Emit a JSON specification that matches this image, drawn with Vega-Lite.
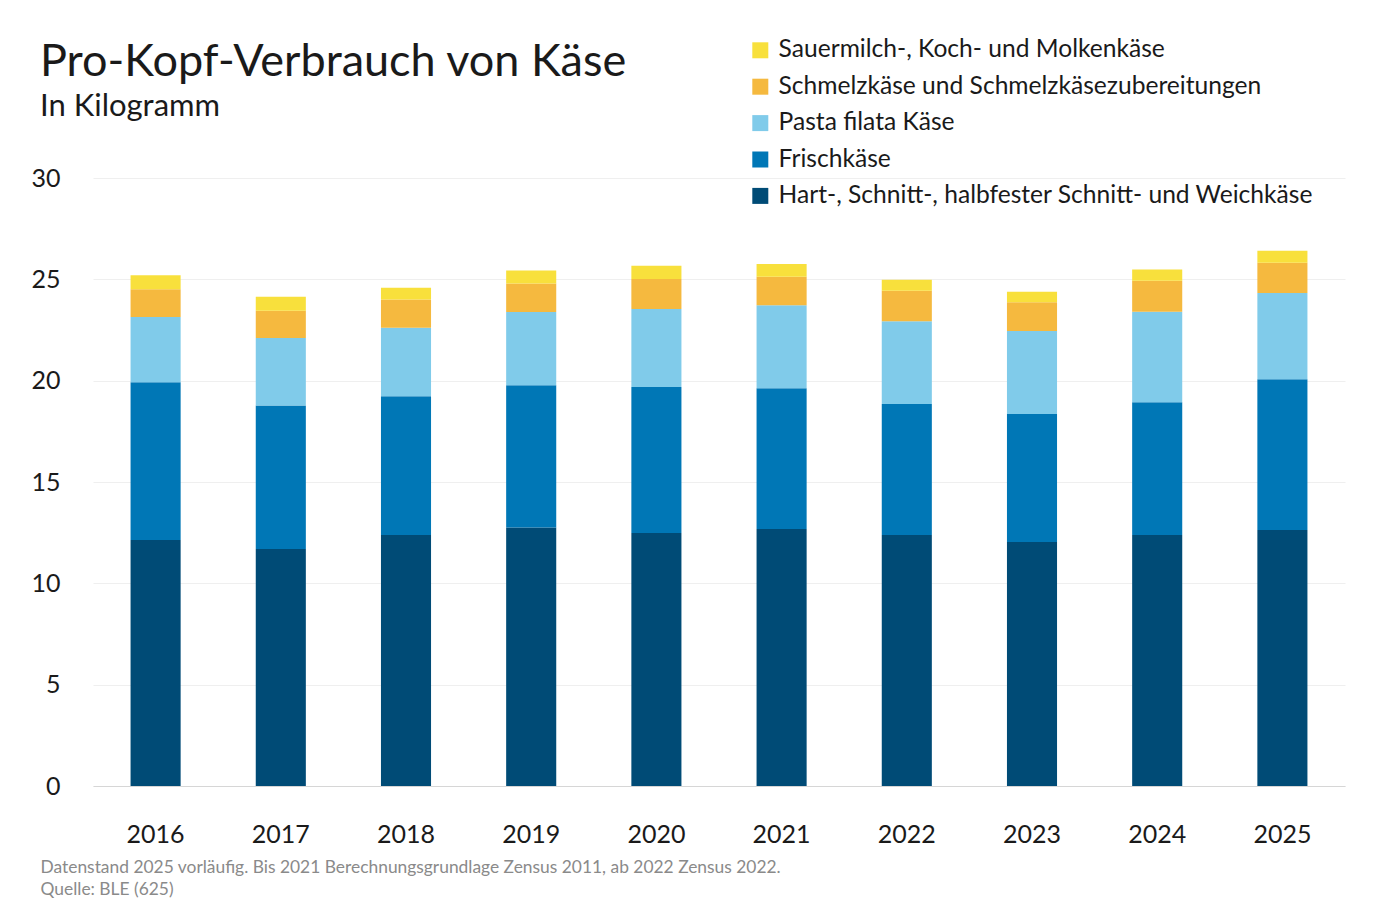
{
  "$schema": "https://vega.github.io/schema/vega-lite/v6.json",
  "width": 1252,
  "height": 608,
  "autosize": {"type": "none"},
  "padding": {"left": 93, "top": 178, "right": 28, "bottom": 130},
  "background": "white",
  "title": {
    "text": "Pro-Kopf-Verbrauch von Käse",
    "subtitle": "In Kilogramm",
    "anchor": "start",
    "frame": "group",
    "dx": -53,
    "offset": 0,
    "dy": 84,
    "font": "Lato",
    "fontSize": 45,
    "fontWeight": "normal",
    "color": "#1a1a1a",
    "subtitleFont": "Lato",
    "subtitleFontSize": 31,
    "subtitleColor": "#1a1a1a",
    "subtitlePadding": 7
  },
  "data": {
    "values": [
      {"jahr": "2016", "stufe": 1, "sorte": "Hart-, Schnitt-, halbfester Schnitt- und Weichkäse", "kg": 12.14},
      {"jahr": "2016", "stufe": 2, "sorte": "Frischkäse", "kg": 7.78},
      {"jahr": "2016", "stufe": 3, "sorte": "Pasta filata Käse", "kg": 3.22},
      {"jahr": "2016", "stufe": 4, "sorte": "Schmelzkäse und Schmelzkäsezubereitungen", "kg": 1.37},
      {"jahr": "2016", "stufe": 5, "sorte": "Sauermilch-, Koch- und Molkenkäse", "kg": 0.69},
      {"jahr": "2017", "stufe": 1, "sorte": "Hart-, Schnitt-, halbfester Schnitt- und Weichkäse", "kg": 11.69},
      {"jahr": "2017", "stufe": 2, "sorte": "Frischkäse", "kg": 7.09},
      {"jahr": "2017", "stufe": 3, "sorte": "Pasta filata Käse", "kg": 3.32},
      {"jahr": "2017", "stufe": 4, "sorte": "Schmelzkäse und Schmelzkäsezubereitungen", "kg": 1.35},
      {"jahr": "2017", "stufe": 5, "sorte": "Sauermilch-, Koch- und Molkenkäse", "kg": 0.69},
      {"jahr": "2018", "stufe": 1, "sorte": "Hart-, Schnitt-, halbfester Schnitt- und Weichkäse", "kg": 12.38},
      {"jahr": "2018", "stufe": 2, "sorte": "Frischkäse", "kg": 6.85},
      {"jahr": "2018", "stufe": 3, "sorte": "Pasta filata Käse", "kg": 3.38},
      {"jahr": "2018", "stufe": 4, "sorte": "Schmelzkäse und Schmelzkäsezubereitungen", "kg": 1.40},
      {"jahr": "2018", "stufe": 5, "sorte": "Sauermilch-, Koch- und Molkenkäse", "kg": 0.58},
      {"jahr": "2019", "stufe": 1, "sorte": "Hart-, Schnitt-, halbfester Schnitt- und Weichkäse", "kg": 12.75},
      {"jahr": "2019", "stufe": 2, "sorte": "Frischkäse", "kg": 7.02},
      {"jahr": "2019", "stufe": 3, "sorte": "Pasta filata Käse", "kg": 3.62},
      {"jahr": "2019", "stufe": 4, "sorte": "Schmelzkäse und Schmelzkäsezubereitungen", "kg": 1.41},
      {"jahr": "2019", "stufe": 5, "sorte": "Sauermilch-, Koch- und Molkenkäse", "kg": 0.63},
      {"jahr": "2020", "stufe": 1, "sorte": "Hart-, Schnitt-, halbfester Schnitt- und Weichkäse", "kg": 12.48},
      {"jahr": "2020", "stufe": 2, "sorte": "Frischkäse", "kg": 7.21},
      {"jahr": "2020", "stufe": 3, "sorte": "Pasta filata Käse", "kg": 3.85},
      {"jahr": "2020", "stufe": 4, "sorte": "Schmelzkäse und Schmelzkäsezubereitungen", "kg": 1.48},
      {"jahr": "2020", "stufe": 5, "sorte": "Sauermilch-, Koch- und Molkenkäse", "kg": 0.65},
      {"jahr": "2021", "stufe": 1, "sorte": "Hart-, Schnitt-, halbfester Schnitt- und Weichkäse", "kg": 12.68},
      {"jahr": "2021", "stufe": 2, "sorte": "Frischkäse", "kg": 6.94},
      {"jahr": "2021", "stufe": 3, "sorte": "Pasta filata Käse", "kg": 4.10},
      {"jahr": "2021", "stufe": 4, "sorte": "Schmelzkäse und Schmelzkäsezubereitungen", "kg": 1.41},
      {"jahr": "2021", "stufe": 5, "sorte": "Sauermilch-, Koch- und Molkenkäse", "kg": 0.63},
      {"jahr": "2022", "stufe": 1, "sorte": "Hart-, Schnitt-, halbfester Schnitt- und Weichkäse", "kg": 12.38},
      {"jahr": "2022", "stufe": 2, "sorte": "Frischkäse", "kg": 6.47},
      {"jahr": "2022", "stufe": 3, "sorte": "Pasta filata Käse", "kg": 4.08},
      {"jahr": "2022", "stufe": 4, "sorte": "Schmelzkäse und Schmelzkäsezubereitungen", "kg": 1.51},
      {"jahr": "2022", "stufe": 5, "sorte": "Sauermilch-, Koch- und Molkenkäse", "kg": 0.54},
      {"jahr": "2023", "stufe": 1, "sorte": "Hart-, Schnitt-, halbfester Schnitt- und Weichkäse", "kg": 12.04},
      {"jahr": "2023", "stufe": 2, "sorte": "Frischkäse", "kg": 6.31},
      {"jahr": "2023", "stufe": 3, "sorte": "Pasta filata Käse", "kg": 4.10},
      {"jahr": "2023", "stufe": 4, "sorte": "Schmelzkäse und Schmelzkäsezubereitungen", "kg": 1.42},
      {"jahr": "2023", "stufe": 5, "sorte": "Sauermilch-, Koch- und Molkenkäse", "kg": 0.52},
      {"jahr": "2024", "stufe": 1, "sorte": "Hart-, Schnitt-, halbfester Schnitt- und Weichkäse", "kg": 12.38},
      {"jahr": "2024", "stufe": 2, "sorte": "Frischkäse", "kg": 6.55},
      {"jahr": "2024", "stufe": 3, "sorte": "Pasta filata Käse", "kg": 4.47},
      {"jahr": "2024", "stufe": 4, "sorte": "Schmelzkäse und Schmelzkäsezubereitungen", "kg": 1.53},
      {"jahr": "2024", "stufe": 5, "sorte": "Sauermilch-, Koch- und Molkenkäse", "kg": 0.56},
      {"jahr": "2025", "stufe": 1, "sorte": "Hart-, Schnitt-, halbfester Schnitt- und Weichkäse", "kg": 12.63},
      {"jahr": "2025", "stufe": 2, "sorte": "Frischkäse", "kg": 7.44},
      {"jahr": "2025", "stufe": 3, "sorte": "Pasta filata Käse", "kg": 4.26},
      {"jahr": "2025", "stufe": 4, "sorte": "Schmelzkäse und Schmelzkäsezubereitungen", "kg": 1.49},
      {"jahr": "2025", "stufe": 5, "sorte": "Sauermilch-, Koch- und Molkenkäse", "kg": 0.59}
    ]
  },
  "mark": {"type": "bar"},
  "encoding": {
    "x": {
      "field": "jahr",
      "type": "ordinal",
      "scale": {"paddingInner": 0.6, "paddingOuter": 0.3},
      "axis": {
        "labelAngle": 0,
        "labelFont": "Lato",
        "labelFontSize": 25,
        "labelColor": "#1a1a1a",
        "labelPadding": 36,
        "ticks": false,
        "domainColor": "#d6d6d6",
        "domainWidth": 1,
        "title": ["Datenstand 2025 vorläufig. Bis 2021 Berechnungsgrundlage Zensus 2011, ab 2022 Zensus 2022.", "Quelle: BLE (625)"],
        "titleFont": "Lato",
        "titleFontSize": 17.4,
        "titleFontWeight": "normal",
        "titleColor": "#8a8a8a",
        "titleAnchor": "start",
        "titleAlign": "left",
        "titleBaseline": "top",
        "titleX": -53,
        "titleY": 72,
        "titleLineHeight": 22
      }
    },
    "y": {
      "field": "kg",
      "type": "quantitative",
      "aggregate": "sum",
      "stack": "zero",
      "scale": {"domain": [0, 30]},
      "axis": {
        "title": null,
        "values": [0, 5, 10, 15, 20, 25, 30],
        "labelFont": "Lato",
        "labelFontSize": 25,
        "labelColor": "#1a1a1a",
        "labelPadding": 33,
        "ticks": false,
        "domain": false,
        "gridColor": "#efefef",
        "gridWidth": 1
      }
    },
    "color": {
      "field": "sorte",
      "type": "nominal",
      "scale": {
        "domain": [
          "Hart-, Schnitt-, halbfester Schnitt- und Weichkäse",
          "Frischkäse",
          "Pasta filata Käse",
          "Schmelzkäse und Schmelzkäsezubereitungen",
          "Sauermilch-, Koch- und Molkenkäse"
        ],
        "range": ["#004b76", "#0077b6", "#80cbea", "#f5b93f", "#f8e03c"]
      },
      "legend": {
        "title": null,
        "orient": "none",
        "legendX": 655,
        "legendY": -140,
        "values": [
          "Sauermilch-, Koch- und Molkenkäse",
          "Schmelzkäse und Schmelzkäsezubereitungen",
          "Pasta filata Käse",
          "Frischkäse",
          "Hart-, Schnitt-, halbfester Schnitt- und Weichkäse"
        ],
        "symbolType": "square",
        "symbolSize": 256,
        "symbolStrokeWidth": 0,
        "labelFont": "Lato",
        "labelFontSize": 24.6,
        "labelColor": "#1a1a1a",
        "labelLimit": 700,
        "labelOffset": 6,
        "rowPadding": 11.4
      }
    },
    "order": {"field": "stufe", "type": "quantitative", "aggregate": "min"}
  },
  "config": {
    "view": {"stroke": null}
  }
}
